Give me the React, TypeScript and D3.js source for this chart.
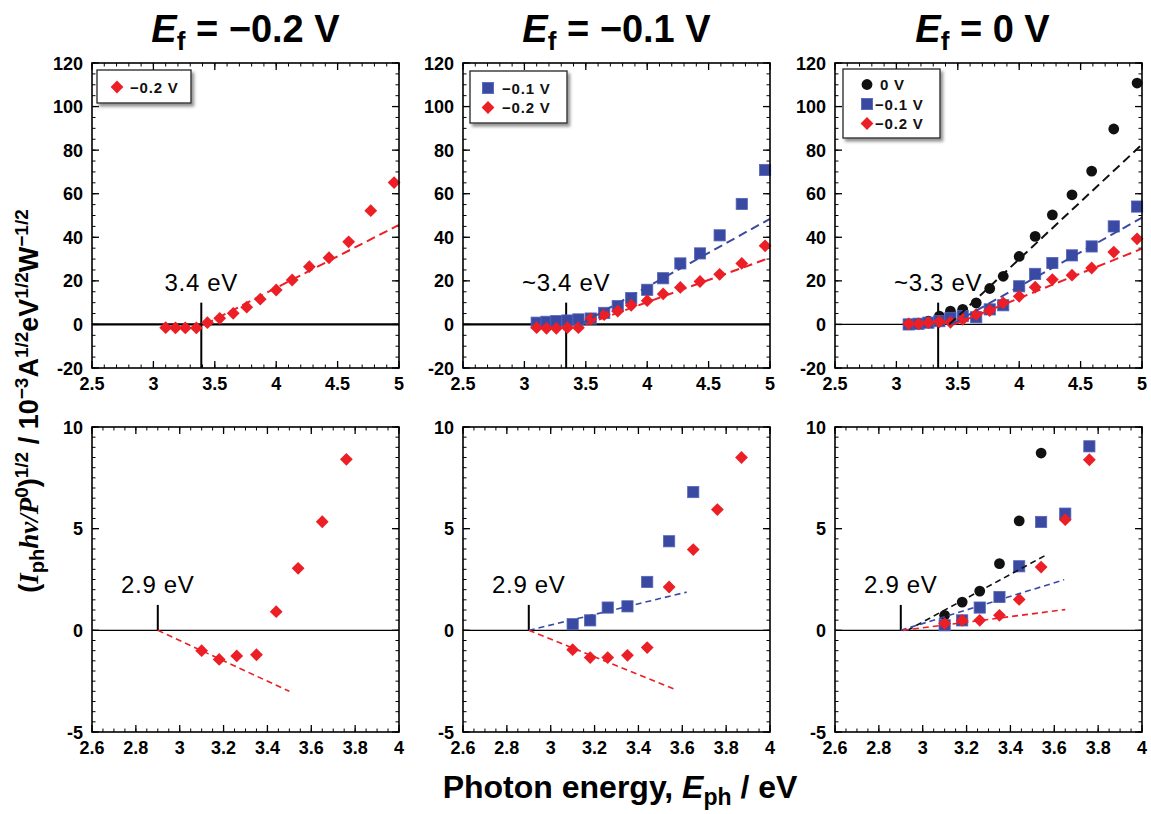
import React from "react";
import * as d3 from "d3";

// photon energies of the monochromator steps (eV)
const energy = [3.1, 3.18, 3.26, 3.35, 3.44, 3.54, 3.65, 3.76, 3.87, 4.0, 4.13, 4.27, 4.43, 4.59, 4.77, 4.96];

// upper row: (Iph hv / P0)^1/2, full range
const upperA_red = [-1.5, -1.6, -1.6, -1.6, 0.8, 2.8, 5.1, 7.9, 11.6, 15.8, 20.4, 26.5, 30.6, 37.9, 52.2, 65.1];
const upperB_blue = [0.8, 1.2, 1.5, 1.8, 2.3, 2.7, 5.3, 8.4, 12.1, 15.9, 21.2, 28.0, 32.6, 40.9, 55.3, 70.9];
const upperB_red = [-1.5, -1.8, -1.8, -1.5, -1.5, 2.5, 4.5, 6.1, 8.8, 10.9, 14.0, 17.0, 19.7, 23.0, 28.0, 36.1];
const upperC_black = [0.3, 0.6, 1.5, 3.8, 6.1, 6.9, 9.9, 16.5, 22.1, 31.2, 40.4, 50.3, 59.5, 70.4, 89.7, 110.8];
const upperC_blue = [0.0, 0.3, 0.8, 1.5, 3.0, 3.8, 3.3, 6.9, 8.8, 17.5, 23.2, 28.2, 31.7, 35.8, 45.0, 54.1];
const upperC_red = [0.3, 0.3, 0.8, 1.2, 1.0, 2.3, 4.6, 6.4, 9.9, 12.9, 17.1, 20.6, 22.6, 25.9, 33.2, 39.3];

// lower row: sub-gap region (values start at 3.10 eV)
const lowerA_red = [-1.0, -1.43, -1.26, -1.2, 0.92, 3.05, 5.34, 8.41];
const lowerB_blue = [0.3, 0.49, 1.12, 1.18, 2.38, 4.38, 6.8];
const lowerB_red = [-0.95, -1.34, -1.34, -1.23, -0.85, 2.13, 3.97, 5.94, 8.5];
const lowerC_black = [0.74, 1.39, 1.93, 3.28, 5.38, 8.72];
const lowerC_blue = [0.25, 0.49, 1.12, 1.64, 3.15, 5.33, 5.74, 9.05];
const lowerC_red = [0.33, 0.49, 0.49, 0.74, 1.52, 3.11, 5.44, 8.39];

// linear fits, [energy, value] end points
const fitUpperA_red: [number, number][] = [[3.42, 0], [5, 45.7]];
const fitUpperB_blue: [number, number][] = [[3.45, 0], [5, 48.5]];
const fitUpperB_red: [number, number][] = [[3.5, 0], [5, 30.6]];
const fitUpperC_black: [number, number][] = [[3.43, 0], [5, 82.6]];
const fitUpperC_blue: [number, number][] = [[3.45, 0], [5, 49]];
const fitUpperC_red: [number, number][] = [[3.47, 0], [5, 34.8]];
const fitLowerA_red: [number, number][] = [[2.9, 0], [3.5, -3.0]];
const fitLowerB_blue: [number, number][] = [[2.9, 0], [3.62, 1.88]];
const fitLowerB_red: [number, number][] = [[2.9, 0], [3.56, -2.87]];
const fitLowerC_black: [number, number][] = [[2.93, 0], [3.56, 3.69]];
const fitLowerC_blue: [number, number][] = [[2.9, 0], [3.645, 2.49]];
const fitLowerC_red: [number, number][] = [[2.91, 0], [3.65, 1.02]];

const titles = ["\u22120.2 V", "\u22120.1 V", "0 V"];
const gapUpper = [3.39, 3.34, 3.34];
const gapUpperLabels = ["3.4 eV", "~3.4 eV", "~3.3 eV"];
const gapLower = [2.9, 2.9, 2.9];
const gapLowerLabels = ["2.9 eV", "2.9 eV", "2.9 eV"];

const xTicksUpper = [2.5, 3, 3.5, 4, 4.5, 5];
const yTicksUpper = [-20, 0, 20, 40, 60, 80, 100, 120];
const xTicksLower = [2.6, 2.8, 3, 3.2, 3.4, 3.6, 3.8, 4];
const yTicksLower = [-5, 0, 5, 10];

const RED = "#EC1F26";
const BLUE = "#3A4AA3";
const BLACK = "#111111";

const SERIES_STYLE: Record<string, { shape: string; color: string }> = {
  " 0 V": { shape: "circle", color: BLACK },
  "\u22120.1 V": { shape: "square", color: BLUE },
  "\u22120.2 V": { shape: "diamond", color: RED },
};

const W = 307;
const H = 305;
const LEFTS = [92, 463, 835];
const TOPS = [63, 427];

type Series = { name: string; values: number[]; fit: [number, number][] };

const upperPanels: Series[][] = [
  [{ name: "\u22120.2 V", values: upperA_red, fit: fitUpperA_red }],
  [
    { name: "\u22120.1 V", values: upperB_blue, fit: fitUpperB_blue },
    { name: "\u22120.2 V", values: upperB_red, fit: fitUpperB_red },
  ],
  [
    { name: " 0 V", values: upperC_black, fit: fitUpperC_black },
    { name: "\u22120.1 V", values: upperC_blue, fit: fitUpperC_blue },
    { name: "\u22120.2 V", values: upperC_red, fit: fitUpperC_red },
  ],
];

const lowerPanels: Series[][] = [
  [{ name: "\u22120.2 V", values: lowerA_red, fit: fitLowerA_red }],
  [
    { name: "\u22120.1 V", values: lowerB_blue, fit: fitLowerB_blue },
    { name: "\u22120.2 V", values: lowerB_red, fit: fitLowerB_red },
  ],
  [
    { name: " 0 V", values: lowerC_black, fit: fitLowerC_black },
    { name: "\u22120.1 V", values: lowerC_blue, fit: fitLowerC_blue },
    { name: "\u22120.2 V", values: lowerC_red, fit: fitLowerC_red },
  ],
];

const Marker = ({ shape, color, x, y }: any) => {
  if (shape === "circle") return <circle cx={x} cy={y} r={5.4} fill={color} />;
  if (shape === "square")
    return <rect x={x - 5.6} y={y - 5.6} width={11.2} height={11.2} fill={color} stroke="#5565b8" strokeWidth={0.8} />;
  const r = 6.4;
  return <path d={`M${x},${y - r}L${x + r},${y}L${x},${y + r}L${x - r},${y}Z`} fill={color} />;
};

const fmt = (v: number) => String(+v.toFixed(2));

function Panel({ left, top, upper, series, gapX, gapLabel, zeroWidth, legend }: any) {
  const xDom = upper ? [2.5, 5] : [2.6, 4];
  const yDom = upper ? [-20, 120] : [-5, 10];
  const x = d3.scaleLinear().domain(xDom).range([0, W]);
  const y = d3.scaleLinear().domain(yDom).range([H, 0]);
  const xMajor = upper ? xTicksUpper : xTicksLower;
  const yMajor = upper ? yTicksUpper : yTicksLower;
  const xMinor = upper ? d3.range(25, 51).map((v) => v / 10) : d3.range(52, 81).map((v) => v / 20);
  const yMinor = upper ? d3.range(-20, 121, 5) : d3.range(-10, 21).map((v) => v / 2);
  const line = d3
    .line<[number, number]>()
    .x((d) => x(d[0]))
    .y((d) => y(d[1]));
  const gapTop = upper ? 10 : 1.25;
  const gapBottom = upper ? -20 : 0;

  return (
    <g transform={`translate(${left},${top})`}>
      {/* ticks on all four sides, pointing in */}
      {xMinor.map((v: number) => (
        <g key={"xm" + v} stroke="#000" strokeWidth={1}>
          <line x1={x(v)} x2={x(v)} y1={H} y2={H - 3.5} />
          <line x1={x(v)} x2={x(v)} y1={0} y2={3.5} />
        </g>
      ))}
      {yMinor.map((v: number) => (
        <g key={"ym" + v} stroke="#000" strokeWidth={1}>
          <line x1={0} x2={3.5} y1={y(v)} y2={y(v)} />
          <line x1={W} x2={W - 3.5} y1={y(v)} y2={y(v)} />
        </g>
      ))}
      {xMajor.map((v: number) => (
        <g key={"xM" + v}>
          <line x1={x(v)} x2={x(v)} y1={H} y2={H - 7} stroke="#000" strokeWidth={1.3} />
          <line x1={x(v)} x2={x(v)} y1={0} y2={7} stroke="#000" strokeWidth={1.3} />
          <text x={x(v)} y={H + 22} textAnchor="middle" fontSize={18} fontWeight="bold">
            {fmt(v)}
          </text>
        </g>
      ))}
      {yMajor.map((v: number) => (
        <g key={"yM" + v}>
          <line x1={0} x2={7} y1={y(v)} y2={y(v)} stroke="#000" strokeWidth={1.3} />
          <line x1={W} x2={W - 7} y1={y(v)} y2={y(v)} stroke="#000" strokeWidth={1.3} />
          <text x={-9} y={y(v) + 6.5} textAnchor="end" fontSize={18} fontWeight="bold">
            {fmt(v)}
          </text>
        </g>
      ))}

      <line x1={0} x2={W} y1={y(0)} y2={y(0)} stroke="#000" strokeWidth={zeroWidth} />
      <line x1={x(gapX)} x2={x(gapX)} y1={y(gapTop)} y2={y(gapBottom)} stroke="#000" strokeWidth={2} />
      <text x={x(gapX)} y={y(gapTop) - 12} textAnchor="middle" fontSize={24} letterSpacing={0.7}>
        {gapLabel}
      </text>

      {series.map((s: Series) =>
        s.values.map((v, i) => (
          <Marker key={s.name + i} shape={SERIES_STYLE[s.name].shape} color={SERIES_STYLE[s.name].color} x={x(energy[i])} y={y(v)} />
        ))
      )}
      {series.map((s: Series) => (
        <path
          key={"fit" + s.name}
          d={line(s.fit) || ""}
          fill="none"
          stroke={SERIES_STYLE[s.name].color}
          strokeWidth={upper ? 2 : 1.6}
          strokeDasharray={upper ? "9 5" : "6 4"}
        />
      ))}

      {legend && (
        <g transform={`translate(${legend.dx},${legend.dy})`}>
          <rect width={legend.w} height={legend.h} fill="#fff" stroke="#222" strokeWidth={1.3} filter="url(#shadow)" />
          {series.map((s: Series, i: number) => (
            <g key={"lg" + s.name}>
              <Marker shape={SERIES_STYLE[s.name].shape} color={SERIES_STYLE[s.name].color} x={legend.mx} y={legend.y0 + i * 19.5} />
              <text
                x={legend.tx}
                y={legend.y0 + i * 19.5 + 5.5}
                fontSize={15}
                fontWeight="bold"
                letterSpacing={0.8}
                fill="#111"
                xmlSpace="preserve"
                style={{ whiteSpace: "pre" }}
              >
                {s.name}
              </text>
            </g>
          ))}
        </g>
      )}

      <rect x={0} y={0} width={W} height={H} fill="none" stroke="#000" strokeWidth={1.6} />
    </g>
  );
}

const legends = [
  { dx: 5, dy: 7, w: 94, h: 33, mx: 20, tx: 33, y0: 17 },
  { dx: 7, dy: 8, w: 97, h: 52, mx: 18, tx: 32, y0: 17 },
  { dx: 8, dy: 6, w: 97, h: 69, mx: 24, tx: 32, y0: 15.5 },
];
const titleDx = [0, 0, -6];

export default function App() {
  return (
    <svg
      width={1151}
      height={814}
      style={{ position: "absolute", left: 0, top: 0, background: "#fff" }}
      fontFamily="'Liberation Sans', Arial, sans-serif"
    >
      <defs>
        <filter id="shadow" x="-10%" y="-10%" width="130%" height="140%">
          <feDropShadow dx={2.5} dy={3} stdDeviation={1.5} floodColor="#777" floodOpacity={0.8} />
        </filter>
      </defs>

      {titles.map((t, i) => (
        <text key={t} x={LEFTS[i] + W / 2 + titleDx[i]} y={42} textAnchor="middle" fontSize={38} fontWeight="bold">
          <tspan fontStyle="italic">E</tspan>
          <tspan fontSize={26} dy={8}>f</tspan>
          <tspan dy={-8}>{" = " + t}</tspan>
        </text>
      ))}

      {upperPanels.map((s, i) => (
        <Panel
          key={"u" + i}
          left={LEFTS[i]}
          top={TOPS[0]}
          upper={true}
          series={s}
          gapX={gapUpper[i]}
          gapLabel={gapUpperLabels[i]}
          zeroWidth={i < 2 ? 2.2 : 1.3}
          legend={legends[i]}
        />
      ))}
      {lowerPanels.map((s, i) => (
        <Panel
          key={"l" + i}
          left={LEFTS[i]}
          top={TOPS[1]}
          upper={false}
          series={s}
          gapX={gapLower[i]}
          gapLabel={gapLowerLabels[i]}
          zeroWidth={1.3}
          legend={null}
        />
      ))}

      <text transform="translate(38,401) rotate(-90)" textAnchor="middle" fontSize={27} fontWeight="bold">
        <tspan>(</tspan>
        <tspan fontFamily="'Liberation Serif', serif" fontStyle="italic">I</tspan>
        <tspan fontSize={20} dy={6}>ph</tspan>
        <tspan dy={-6} fontFamily="'Liberation Serif', serif" fontStyle="italic">hν/P</tspan>
        <tspan fontSize={19} dy={-10}>0</tspan>
        <tspan dy={10}>)</tspan>
        <tspan fontSize={19} dy={-10}>1/2</tspan>
        <tspan dy={10}>{" / 10"}</tspan>
        <tspan fontSize={19} dy={-10}>−3</tspan>
        <tspan dy={10}>A</tspan>
        <tspan fontSize={19} dy={-10}>1/2</tspan>
        <tspan dy={10}>eV</tspan>
        <tspan fontSize={19} dy={-10}>1/2</tspan>
        <tspan dy={10}>W</tspan>
        <tspan fontSize={19} dy={-10}>−1/2</tspan>
      </text>

      <text x={620} y={798} textAnchor="middle" fontSize={32} fontWeight="bold">
        <tspan>Photon energy, </tspan>
        <tspan fontStyle="italic">E</tspan>
        <tspan fontSize={23} dy={7}>ph</tspan>
        <tspan dy={-7}>{" / eV"}</tspan>
      </text>
    </svg>
  );
}
